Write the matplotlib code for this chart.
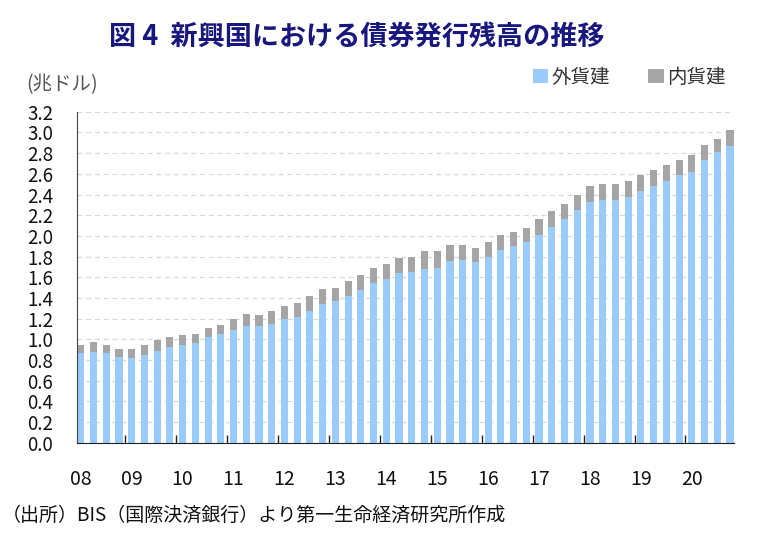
import matplotlib
matplotlib.use("Agg")
import matplotlib.pyplot as plt
import numpy as np
from matplotlib.patches import Patch
from matplotlib.ticker import FixedLocator, NullFormatter

plt.rcParams["font.family"] = ["Noto Sans CJK JP", "DejaVu Sans"]

# quarterly, 2008Q1 - 2020Q4 (trillion USD)
foreign = [0.87, 0.88, 0.87, 0.83, 0.82, 0.85, 0.89, 0.93, 0.945, 0.96,
           1.02, 1.05, 1.09, 1.13, 1.13, 1.15, 1.20, 1.22, 1.275, 1.345,
           1.37, 1.42, 1.48, 1.545, 1.585, 1.64, 1.65, 1.68, 1.69, 1.76,
           1.77, 1.75, 1.80, 1.865, 1.90, 1.94, 2.005, 2.09, 2.16, 2.25,
           2.33, 2.35, 2.345, 2.375, 2.435, 2.48, 2.535, 2.585, 2.62, 2.73,
           2.81, 2.87]
domestic = [0.075, 0.09, 0.075, 0.08, 0.09, 0.095, 0.10, 0.095, 0.095, 0.09,
            0.09, 0.09, 0.11, 0.115, 0.11, 0.12, 0.12, 0.13, 0.145, 0.145,
            0.13, 0.14, 0.14, 0.145, 0.145, 0.15, 0.15, 0.17, 0.16, 0.15,
            0.14, 0.13, 0.14, 0.14, 0.14, 0.14, 0.155, 0.15, 0.15, 0.15,
            0.15, 0.15, 0.155, 0.155, 0.155, 0.16, 0.155, 0.145, 0.16, 0.15,
            0.13, 0.15]
year_labels = ["08", "09", "10", "11", "12", "13", "14", "15", "16", "17",
               "18", "19", "20"]
series_names = ["外貨建", "内貨建"]

BLUE = "#99CBFD"
GRAY = "#A5A5A5"

fig = plt.figure(figsize=(7.62, 5.40), dpi=100)
ax = fig.add_axes([0.101, 0.180, 0.862, 0.613])

x = np.arange(len(foreign))
ax.bar(x, foreign, width=0.56, color=BLUE, zorder=3)
ax.bar(x, domestic, bottom=foreign, width=0.56, color=GRAY, zorder=3)

ax.set_xlim(-0.3, len(foreign) - 0.7)
ax.set_ylim(0, 3.2)
ax.set_yticks(np.arange(0, 3.21, 0.2))
ax.set_yticklabels([f"{v:.1f}" for v in np.arange(0, 3.21, 0.2)])
ax.yaxis.grid(True, linestyle=(0, (4, 3)), color="#D9D9D9", linewidth=0.9, zorder=0)
ax.tick_params(axis="y", length=0, pad=17, labelsize=13.5, labelcolor="#111111")

ax.set_xticks(np.arange(0, len(foreign), 4))
ax.set_xticklabels(year_labels)
ax.tick_params(axis="x", which="major", length=0, pad=19, labelsize=14,
               labelcolor="#111111")
ax.xaxis.set_minor_locator(FixedLocator(np.arange(3.5, len(foreign) - 1, 4)))
ax.xaxis.set_minor_formatter(NullFormatter())
ax.tick_params(axis="x", which="minor", direction="in", length=6,
               width=1.0, color="#222222")

for side in ["top", "right"]:
    ax.spines[side].set_visible(False)
ax.spines["left"].set_color("#444444")
ax.spines["bottom"].set_color("#222222")
ax.spines["left"].set_zorder(4)
ax.spines["bottom"].set_zorder(4)

fig.text(0.468, 0.932, "図 4  新興国における債券発行残高の推移", ha="center",
         va="center", fontsize=19.5, fontweight="bold", color="#17177E")
fig.text(0.035, 0.843, "(兆ドル)", ha="left", va="center", fontsize=14,
         color="#555555")
fig.text(0.002, 0.046, "（出所）BIS（国際決済銀行）より第一生命経済研究所作成",
         ha="left", va="center", fontsize=13.7, color="#111111")

handles = [Patch(facecolor=BLUE, edgecolor="none"),
           Patch(facecolor=GRAY, edgecolor="none")]
fig.legend(handles, series_names, loc="center right",
           bbox_to_anchor=(0.975, 0.857), ncol=2, frameon=False,
           fontsize=14, handlelength=0.8, handleheight=0.8,
           handletextpad=0.15, columnspacing=2.0, labelcolor="#333333")

fig.savefig("out.png", dpi=100)
